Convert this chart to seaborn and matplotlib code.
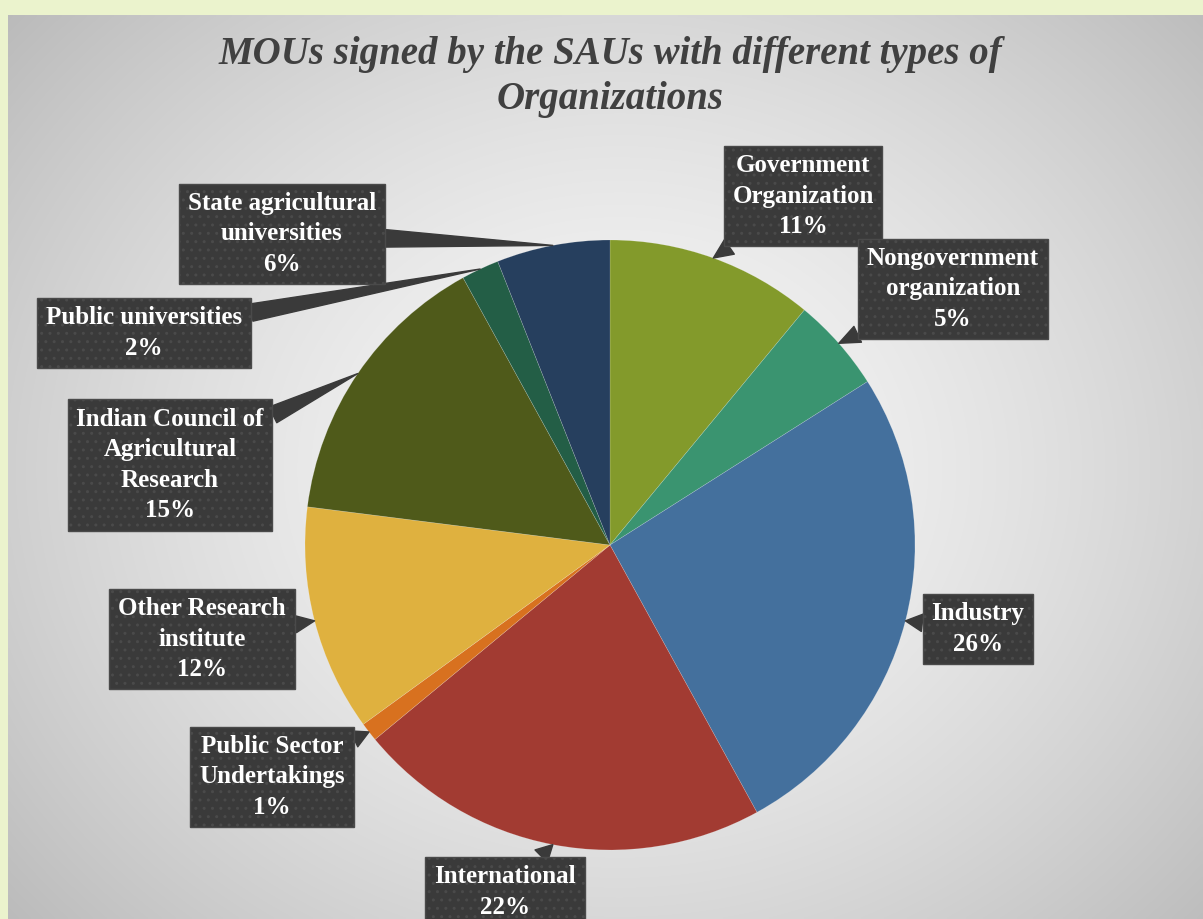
import numpy as np
import matplotlib
matplotlib.use("Agg")
import matplotlib.pyplot as plt
import seaborn as sns

# ---- data ----
categories = ["Government Organization", "Nongovernment organization", "Industry",
              "International", "Public Sector Undertakings", "Other Research institute",
              "Indian Council of Agricultural Research", "Public universities",
              "State agricultural universities"]
display_labels = ["Government\nOrganization", "Nongovernment\norganization", "Industry",
                  "International", "Public Sector\nUndertakings", "Other Research\ninstitute",
                  "Indian Council of\nAgricultural\nResearch", "Public universities",
                  "State agricultural\nuniversities"]
values = [11, 5, 26, 22, 1, 12, 15, 2, 6]
colors = ["#839A2B", "#3A9470", "#44709D", "#A23B32", "#D8711F", "#DFB13F",
          "#4F5A1A", "#235E46", "#263F5E"]
title = "MOUs signed by the SAUs with different types of\nOrganizations"

# label box centres (pixel layout, y from top)
label_pos = [(803, 196), (953, 289), (978, 629), (505, 892), (272, 777),
             (202, 639), (170, 465), (144, 333), (282, 234)]

sns.set_theme(style="white")
plt.rcParams["font.family"] = ["Liberation Serif", "DejaVu Serif"]

W, H = 1203, 919
fig = plt.figure(figsize=(W / 100, H / 100), dpi=100)
fig.patch.set_facecolor("#EBF3CD")
ax = fig.add_axes([0, 0, 1, 1])
ax.set_facecolor("none")

# radial gradient background
gx0, gx1, gy0, gy1 = 8, W, 0, H - 15
nx, ny = 400, 300
xs = np.linspace(gx0, gx1, nx)
ys = np.linspace(gy1, gy0, ny)
XX, YY = np.meshgrid(xs, ys)
cx, cy = 620, H - 470
d = np.sqrt(((XX - cx) / 720) ** 2 + ((YY - cy) / 620) ** 2)
val = 0.97 - 0.2 * np.clip(d, 0, 1.3) ** 1.5
img = np.dstack([val, val, val])
ax.imshow(img, extent=[gx0, gx1, gy0, gy1], aspect="auto", zorder=0, interpolation="bilinear")

# pie
center = (610, H - 545)
radius = 305
wedges, _ = ax.pie(values, colors=colors, startangle=90, counterclock=False,
                   center=center, radius=radius,
                   wedgeprops=dict(linewidth=0.4, edgecolor=(1, 1, 1, 0.25)))
for w in wedges:
    w.set_zorder(2)

total = sum(values)
for w, lab, v, (px, py) in zip(wedges, display_labels, values, label_pos):
    mid = np.deg2rad((w.theta1 + w.theta2) / 2)
    ex = center[0] + radius * np.cos(mid)
    ey = center[1] + radius * np.sin(mid)
    pct = round(100 * v / total)
    ax.annotate(f"{lab}\n{pct}%", xy=(ex, ey), xytext=(px, H - py),
                ha="center", va="center", fontsize=18, fontweight="bold",
                color="white", linespacing=1.4, zorder=5, annotation_clip=False,
                bbox=dict(boxstyle="square,pad=0.35", facecolor="#3A3A3A",
                          edgecolor="#4A4A4A", linewidth=1.0, hatch=".."),
                arrowprops=dict(arrowstyle="wedge,tail_width=0.7", color="#3A3A3A",
                                shrinkA=0, shrinkB=0, zorder=4))

ax.text(610, H - 36, title, ha="center", va="top", fontsize=28,
        fontweight="bold", fontstyle="italic", color="#404040", linespacing=1.3, zorder=3)

ax.set_xlim(0, W)
ax.set_ylim(0, H)
ax.set_aspect("auto")
ax.axis("off")

fig.savefig("out.png", dpi=100, facecolor=fig.get_facecolor())
